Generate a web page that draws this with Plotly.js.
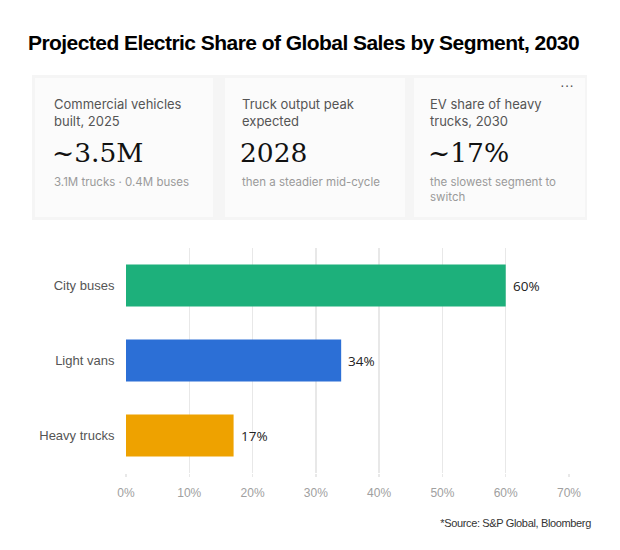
<!DOCTYPE html>
<html>
<head>
<meta charset="utf-8">
<script src="https://cdn.plot.ly/plotly-3.0.1.min.js"></script>
<style>
  html, body { margin: 0; padding: 0; background: #ffffff; }
  #chart { width: 620px; height: 550px; }
  .gtitle { letter-spacing: -0.55px; }
  .source-note text { letter-spacing: -0.35px; }
</style>
</head>
<body>
<div id="chart"></div>
<script>
// ---- data ----
const categories = ['City buses', 'Light vans', 'Heavy trucks'];
const shareValues = [60, 34, 17];
const barColors = ['#1db07b', '#2c6fd6', '#eea200'];
const tickValues = [0, 10, 20, 30, 40, 50, 60, 70];
const tickLabels = ['0%', '10%', '20%', '30%', '40%', '50%', '60%', '70%'];

const cardLabels = ['Commercial vehicles<br>built, 2025', 'Truck output peak<br>expected', 'EV share of heavy<br>trucks, 2030'];
const cardValues = ['~3.5M', '2028', '~17%'];
const cardNotes = ['3.1M trucks · 0.4M buses', 'then a steadier mid-cycle', 'the slowest segment to<br>switch'];

const titleText = 'Projected Electric Share of Global Sales by Segment, 2030';
const sourceText = '*Source: S&P Global, Bloomberg';

// ---- layout helpers (pixel -> paper) ----
const M = { l: 126, r: 51, t: 248, b: 77 };
const W = 620, H = 550;
const PW = W - M.l - M.r, PH = H - M.t - M.b;
const fx = px => (px - M.l) / PW;
const fy = py => (H - M.b - py) / PH;

const sans = 'Inter, "Noto Sans", sans-serif';
const arial = '"Liberation Sans", Arial, sans-serif';

const cardX = [[35, 213], [225, 405], [414, 585]];
const textX = [53, 241, 429];

const shapes = [{
  type: 'rect', xref: 'paper', yref: 'paper',
  x0: fx(32), x1: fx(587), y0: fy(220), y1: fy(75),
  fillcolor: '#f5f5f5', line: { width: 0 }, layer: 'below'
}];
cardX.forEach(c => shapes.push({
  type: 'rect', xref: 'paper', yref: 'paper',
  x0: fx(c[0]), x1: fx(c[1]), y0: fy(217), y1: fy(78),
  fillcolor: '#fbfbfb', line: { width: 0 }, layer: 'below'
}));

const annotations = [];
cardLabels.forEach((t, i) => {
  annotations.push({
    text: t, xref: 'paper', yref: 'paper', x: fx(textX[i] - 1), y: fy(112),
    xanchor: 'left', yanchor: 'middle', align: 'left', showarrow: false,
    font: { family: sans, size: 13, color: '#555555' }
  });
  annotations.push({
    text: cardValues[i], xref: 'paper', yref: 'paper', x: fx(textX[i] - 3), y: fy(152),
    xanchor: 'left', yanchor: 'middle', align: 'left', showarrow: false,
    font: { family: '"DejaVu Serif", "Liberation Serif", serif', size: 26.5, color: '#111111' }
  });
  annotations.push({
    text: cardNotes[i], xref: 'paper', yref: 'paper', x: fx(textX[i] - 1), y: fy(i === 2 ? 190 : 182),
    xanchor: 'left', yanchor: 'middle', align: 'left', showarrow: false,
    font: { family: sans, size: 11.5, color: '#9a9a9a' }
  });
});
annotations.push({
  text: '···', xref: 'paper', yref: 'paper', x: fx(567), y: fy(85),
  xanchor: 'center', yanchor: 'middle', showarrow: false,
  font: { family: arial, size: 14, color: '#555555' }
});
annotations.push({
  text: sourceText, xref: 'paper', yref: 'paper', x: fx(598), y: fy(523),
  xanchor: 'right', yanchor: 'middle', showarrow: false,
  font: { family: arial, size: 11, color: '#333333' }
});
const sourceIndex = annotations.length - 1;

// value labels, positioned through the data axes
categories.forEach((c, i) => annotations.push({
  text: shareValues[i] + '%', xref: 'x', yref: 'y', x: shareValues[i], y: c,
  xanchor: 'left', yanchor: 'middle', xshift: 5, showarrow: false,
  font: { family: '"Open Sans", sans-serif', size: 13.5, color: '#222222' }
}));

const trace = {
  type: 'bar', orientation: 'h',
  y: categories, x: shareValues,
  marker: { color: barColors, line: { width: 0 } },
  hoverinfo: 'skip'
};

const layout = {
  width: W, height: H,
  margin: M,
  paper_bgcolor: '#ffffff', plot_bgcolor: '#ffffff',
  showlegend: false,
  bargap: 0.44,
  title: {
    text: '<b>' + titleText + '</b>',
    xref: 'container', yref: 'container',
    x: 303.5 / W, xanchor: 'center', y: 1 - 43 / H, yanchor: 'middle',
    font: { family: arial, size: 21, color: '#000000' }
  },
  xaxis: {
    range: [0, 70], tickvals: tickValues, ticktext: tickLabels,
    showgrid: true, gridcolor: '#e8e8e8', gridwidth: 1.5,
    zeroline: false, showline: false,
    ticks: 'outside', ticklen: 3, tickcolor: '#e8e8e8', tickwidth: 1.5,
    tickfont: { family: arial, size: 12, color: '#a0a0a0' },
    ticklabelstandoff: 6,
    fixedrange: true
  },
  yaxis: {
    autorange: 'reversed', showgrid: false, zeroline: false, showline: false,
    ticks: 'outside', ticklen: 8, tickcolor: 'rgba(0,0,0,0)',
    tickfont: { family: arial, size: 13, color: '#555555' },
    fixedrange: true
  },
  shapes: shapes,
  annotations: annotations
};

Plotly.newPlot('chart', [trace], layout, { displayModeBar: false, staticPlot: true }).then(gd => {
  const el = gd.querySelector('.annotation[data-index="' + sourceIndex + '"]');
  if (el) el.classList.add('source-note');
});
</script>
</body>
</html>
